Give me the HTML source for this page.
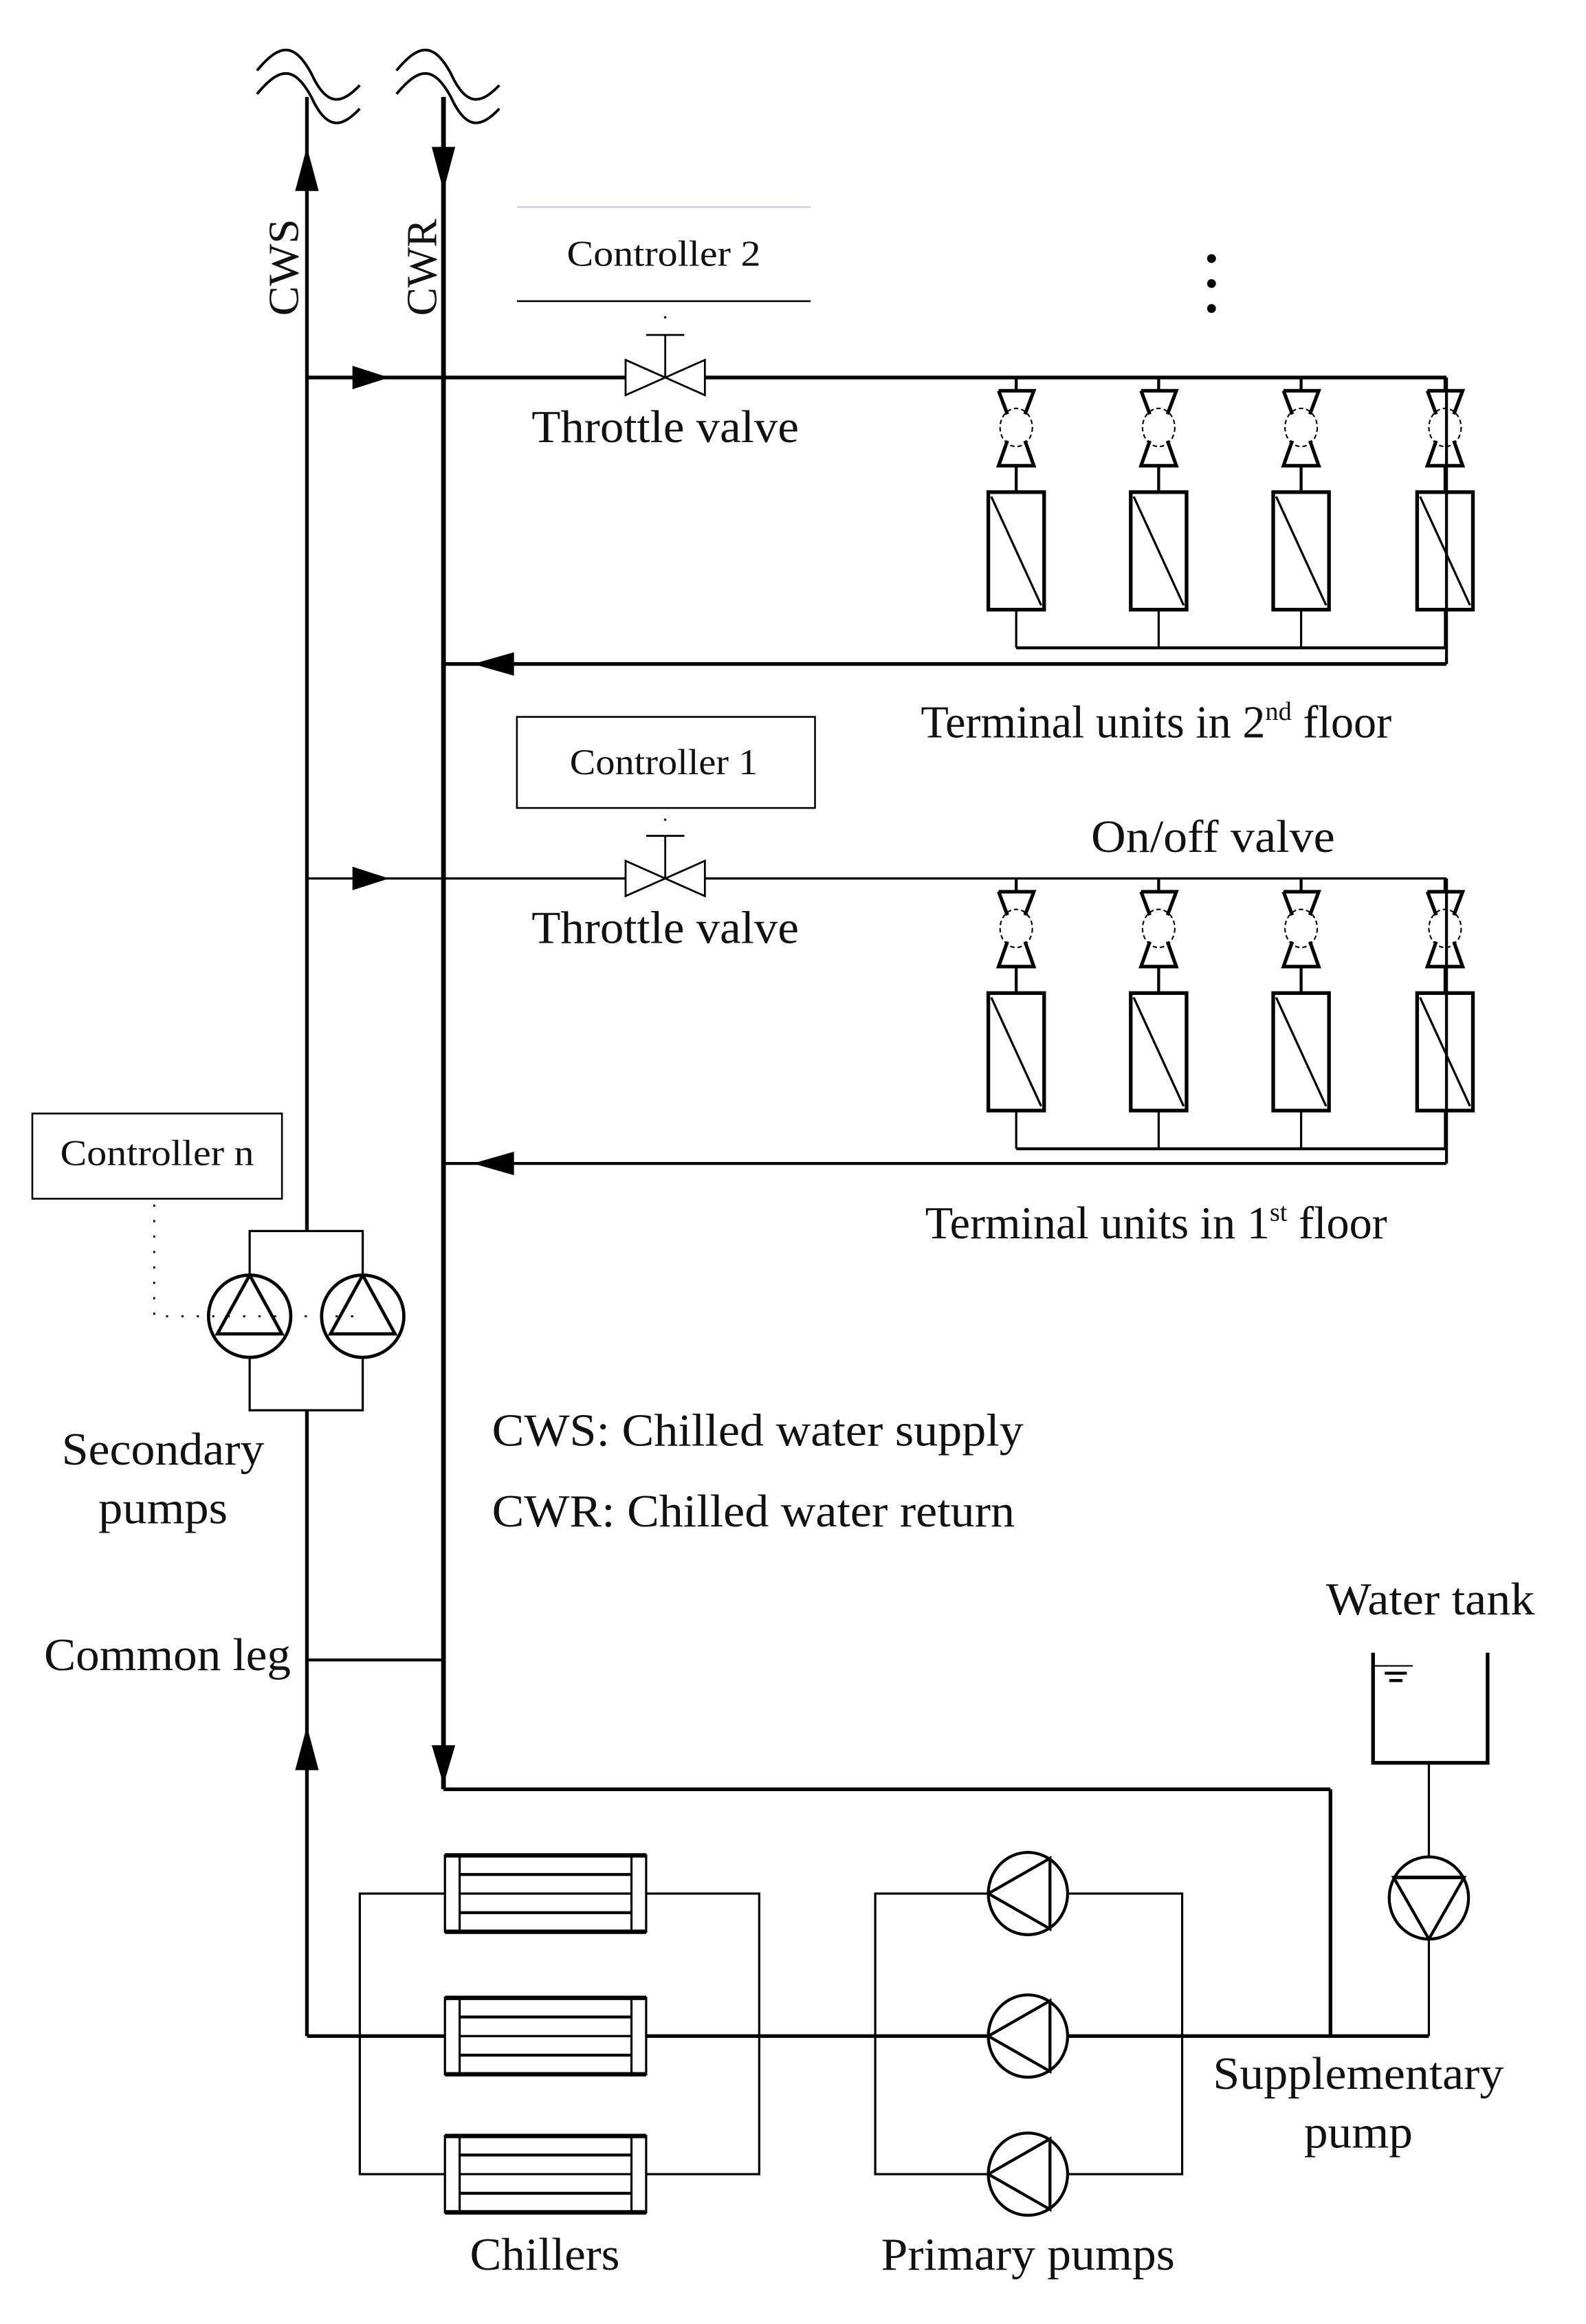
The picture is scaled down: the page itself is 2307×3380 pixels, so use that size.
<!DOCTYPE html>
<html><head><meta charset="utf-8"><style>
html,body{margin:0;padding:0;background:#fff;}
svg{display:block;}
text{font-family:"Liberation Serif",serif;fill:#111;}
</style></head><body>
<svg width="2307" height="3380" viewBox="0 0 1080 1582" preserveAspectRatio="none" xmlns="http://www.w3.org/2000/svg">
<defs>
<g id="tu">
  <line x1="0" y1="257" x2="0" y2="265" stroke="#000" stroke-width="2"/>
  <path d="M-12,266 H12 L6,282 M-12,266 L-6,282" fill="none" stroke="#000" stroke-width="2.4"/>
  <ellipse cx="0" cy="291" rx="11" ry="13" fill="none" stroke="#000" stroke-width="1" stroke-dasharray="3,2"/>
  <path d="M-6,300 L-12,317 H12 L6,300" fill="none" stroke="#000" stroke-width="2.4"/>
  <line x1="0" y1="317" x2="0" y2="335" stroke="#000" stroke-width="2"/>
  <rect x="-19" y="335" width="38" height="80" fill="none" stroke="#000" stroke-width="2.5"/>
  <line x1="-17" y1="338" x2="17" y2="412" stroke="#000" stroke-width="1.5"/>
  <line x1="0" y1="415" x2="0" y2="441" stroke="#000" stroke-width="1.5"/>
</g>
<g id="chiller">
  <rect x="0" y="-26" width="137" height="52" fill="#fff" stroke="#000" stroke-width="1.5"/>
  <line x1="0" y1="-26" x2="137" y2="-26" stroke="#000" stroke-width="3"/>
  <line x1="0" y1="26" x2="137" y2="26" stroke="#000" stroke-width="3"/>
  <line x1="10" y1="-26" x2="10" y2="26" stroke="#000" stroke-width="1.5"/>
  <line x1="127" y1="-26" x2="127" y2="26" stroke="#000" stroke-width="1.5"/>
  <line x1="10" y1="-13" x2="127" y2="-13" stroke="#000" stroke-width="2"/>
  <line x1="10" y1="0" x2="127" y2="0" stroke="#000" stroke-width="1.5"/>
  <line x1="10" y1="13" x2="127" y2="13" stroke="#000" stroke-width="2"/>
</g>
<g id="ppump">
  <ellipse cx="0" cy="0" rx="27" ry="28" fill="#fff" stroke="#000" stroke-width="2"/>
  <path d="M15,-24 V24 L-27,0 Z" fill="none" stroke="#000" stroke-width="2"/>
</g>
<g id="spump">
  <ellipse cx="0" cy="0" rx="28" ry="28" fill="#fff" stroke="#000" stroke-width="2.2"/>
  <path d="M0,-28 L-22,12 H22 Z" fill="none" stroke="#000" stroke-width="2.2"/>
</g>
</defs>

<g fill="none" stroke="#000" stroke-width="1.8">
<path d="M175,48 C190,30 200,28 212,50 C222,72 232,72 245,58"/>
<path d="M175,64 C190,46 200,44 212,66 C222,88 232,88 245,74"/>
<path d="M270,48 C285,30 295,28 307,50 C317,72 327,72 340,58"/>
<path d="M270,64 C285,46 295,44 307,66 C317,88 327,88 340,74"/>
</g>

<line x1="209" y1="66" x2="209" y2="838" stroke="#000" stroke-width="2.5"/>
<line x1="209" y1="960" x2="209" y2="1386" stroke="#000" stroke-width="2.5"/>
<line x1="302" y1="66" x2="302" y2="1218" stroke="#000" stroke-width="3.2"/>
<polygon points="209,100 201,130 217,130" fill="#000"/>
<polygon points="302,130 294,100 310,100" fill="#000"/>
<polygon points="209,1175 201,1205 217,1205" fill="#000"/>
<polygon points="302,1215 294,1188 310,1188" fill="#000"/>

<text transform="translate(203,182) rotate(-90)" font-size="29" text-anchor="middle" textLength="66" lengthAdjust="spacingAndGlyphs">CWS</text>
<text transform="translate(297,182) rotate(-90)" font-size="29" text-anchor="middle" textLength="66" lengthAdjust="spacingAndGlyphs">CWR</text>

<line x1="352" y1="141" x2="552" y2="141" stroke="#ccd" stroke-width="1"/>
<line x1="352" y1="205" x2="552" y2="205" stroke="#000" stroke-width="1.2"/>
<text x="386" y="181" font-size="25" textLength="132" lengthAdjust="spacingAndGlyphs">Controller 2</text>
<circle cx="453" cy="216" r="0.8" fill="#000"/>

<line x1="209" y1="257" x2="426" y2="257" stroke="#000" stroke-width="2.5"/>
<line x1="480" y1="257" x2="985" y2="257" stroke="#000" stroke-width="2.5"/>
<polygon points="265,257 240,249 240,265" fill="#000"/>
<path d="M426,245 L480,269 V245 L426,269 Z" fill="#fff" stroke="#000" stroke-width="1.3"/>
<line x1="453" y1="257" x2="453" y2="228" stroke="#000" stroke-width="1.3"/>
<line x1="440" y1="228" x2="466" y2="228" stroke="#000" stroke-width="1.3"/>
<text x="362" y="301" font-size="31" textLength="182" lengthAdjust="spacingAndGlyphs">Throttle valve</text>
<circle cx="825" cy="176" r="3" fill="#000"/><circle cx="825" cy="193" r="3" fill="#000"/><circle cx="825" cy="210" r="3" fill="#000"/>

<use href="#tu" x="692"/><use href="#tu" x="789"/><use href="#tu" x="886"/><use href="#tu" x="984"/>
<line x1="692" y1="441" x2="985" y2="441" stroke="#000" stroke-width="2"/>
<line x1="985" y1="257" x2="985" y2="452" stroke="#000" stroke-width="2"/>
<line x1="302" y1="452" x2="985" y2="452" stroke="#000" stroke-width="2.5"/>
<polygon points="322,452 350,444 350,460" fill="#000"/>
<text x="627" y="502" font-size="31">Terminal units in 2<tspan font-size="18" dy="-12">nd</tspan><tspan dy="12"> floor</tspan></text>

<rect x="352" y="488" width="203" height="62" fill="none" stroke="#000" stroke-width="1.2"/>
<text x="388" y="527" font-size="25" textLength="128" lengthAdjust="spacingAndGlyphs">Controller 1</text>
<circle cx="453" cy="558" r="0.8" fill="#000"/>
<line x1="209" y1="598" x2="426" y2="598" stroke="#000" stroke-width="1.5"/>
<line x1="480" y1="598" x2="985" y2="598" stroke="#000" stroke-width="1.5"/>
<polygon points="265,598 240,590 240,606" fill="#000"/>
<path d="M426,586 L480,610 V586 L426,610 Z" fill="#fff" stroke="#000" stroke-width="1.3"/>
<line x1="453" y1="598" x2="453" y2="569" stroke="#000" stroke-width="1.3"/>
<line x1="440" y1="569" x2="466" y2="569" stroke="#000" stroke-width="1.3"/>
<text x="362" y="642" font-size="31" textLength="182" lengthAdjust="spacingAndGlyphs">Throttle valve</text>
<text x="743" y="580" font-size="31" textLength="166" lengthAdjust="spacingAndGlyphs">On/off valve</text>

<g transform="translate(0,341)">
<use href="#tu" x="692"/><use href="#tu" x="789"/><use href="#tu" x="886"/><use href="#tu" x="984"/>
<line x1="692" y1="441" x2="985" y2="441" stroke="#000" stroke-width="2"/>
<line x1="985" y1="257" x2="985" y2="451" stroke="#000" stroke-width="2"/>
<line x1="302" y1="451" x2="985" y2="451" stroke="#000" stroke-width="2"/>
<polygon points="322,451 350,443 350,459" fill="#000"/>
</g>
<text x="630" y="843" font-size="31">Terminal units in 1<tspan font-size="18" dy="-12">st</tspan><tspan dy="12"> floor</tspan></text>

<rect x="22" y="758" width="170" height="58" fill="none" stroke="#000" stroke-width="1.2"/>
<text x="41" y="793" font-size="25" textLength="132" lengthAdjust="spacingAndGlyphs">Controller n</text>
<rect x="170" y="838" width="77" height="122" fill="none" stroke="#000" stroke-width="1.5"/>
<use href="#spump" x="170" y="896"/><use href="#spump" x="247" y="896"/>
<path d="M105,820 V896 H242" fill="none" stroke="#000" stroke-width="1.3" stroke-dasharray="1.5,9"/>
<text x="42" y="997" font-size="31" textLength="138" lengthAdjust="spacingAndGlyphs">Secondary</text>
<text x="67" y="1037" font-size="31" textLength="88" lengthAdjust="spacingAndGlyphs">pumps</text>

<text x="335" y="984" font-size="31" textLength="362" lengthAdjust="spacingAndGlyphs">CWS: Chilled water supply</text>
<text x="335" y="1039" font-size="31" textLength="356" lengthAdjust="spacingAndGlyphs">CWR: Chilled water return</text>

<text x="30" y="1137" font-size="31" textLength="168" lengthAdjust="spacingAndGlyphs">Common leg</text>
<line x1="209" y1="1130" x2="302" y2="1130" stroke="#000" stroke-width="2"/>

<line x1="302" y1="1218" x2="906" y2="1218" stroke="#000" stroke-width="2.5"/>
<line x1="906" y1="1218" x2="906" y2="1386" stroke="#000" stroke-width="2.5"/>

<text x="903" y="1099" font-size="31" textLength="142" lengthAdjust="spacingAndGlyphs">Water tank</text>
<path d="M935,1125 V1200 H1013 V1125" fill="none" stroke="#000" stroke-width="2.5"/>
<line x1="936" y1="1134" x2="962" y2="1134" stroke="#000" stroke-width="1"/>
<line x1="943" y1="1139" x2="958" y2="1139" stroke="#000" stroke-width="2"/>
<line x1="946" y1="1144" x2="955" y2="1144" stroke="#000" stroke-width="2"/>
<line x1="973" y1="1200" x2="973" y2="1386" stroke="#000" stroke-width="1.5"/>
<ellipse cx="973" cy="1292" rx="27" ry="28" fill="#fff" stroke="#000" stroke-width="2"/>
<path d="M949,1278 H997 L973,1320 Z" fill="none" stroke="#000" stroke-width="2"/>
<line x1="949" y1="1278" x2="997" y2="1278" stroke="#000" stroke-width="2.5"/>

<line x1="209" y1="1386" x2="973" y2="1386" stroke="#000" stroke-width="2.5"/>
<rect x="245" y="1289" width="272" height="191" fill="none" stroke="#000" stroke-width="1.5"/>
<use href="#chiller" x="303" y="1289"/><use href="#chiller" x="303" y="1386"/><use href="#chiller" x="303" y="1480"/>
<rect x="596" y="1289" width="209" height="191" fill="none" stroke="#000" stroke-width="1.5"/>
<use href="#ppump" x="700" y="1289"/><use href="#ppump" x="700" y="1386"/><use href="#ppump" x="700" y="1480"/>

<text x="320" y="1545" font-size="31" textLength="102" lengthAdjust="spacingAndGlyphs">Chillers</text>
<text x="600" y="1545" font-size="31" textLength="200" lengthAdjust="spacingAndGlyphs">Primary pumps</text>
<text x="826" y="1422" font-size="31" textLength="198" lengthAdjust="spacingAndGlyphs">Supplementary</text>
<text x="888" y="1462" font-size="31" textLength="74" lengthAdjust="spacingAndGlyphs">pump</text>
</svg>
</body></html>
